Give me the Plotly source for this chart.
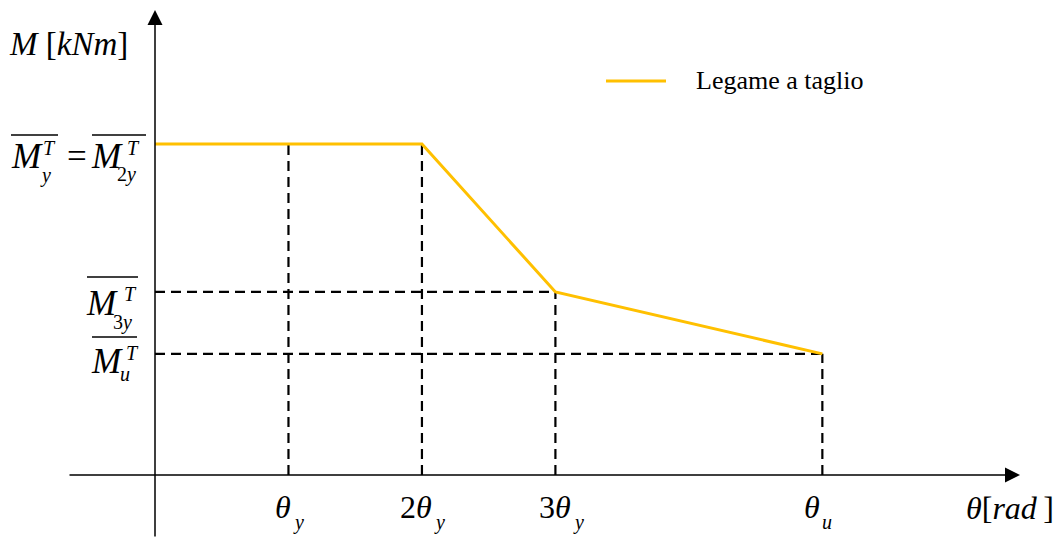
import plotly.graph_objects as go

# ---- data (schematic units: theta in multiples of theta_y, M normalised to M_y) ----
theta_ticks = [1, 2, 3, 5]                     # theta_y, 2theta_y, 3theta_y, theta_u
curve_theta = [0, 2, 3, 5]                      # shear law break points
curve_M = [1.0, 1.0, 0.553, 0.366]              # M_y = M_2y, M_3y, M_u
guide_M = [1.0, 1.0, 0.553, 0.366]              # height of dashed guide at each tick
level_M = [0.553, 0.366]                        # horizontal dashed levels
level_theta = [3, 5]                            # where horizontal guides end
series_name = "Legame a taglio"

W, H = 1062, 538
X0, SX = 155.0, 133.47       # pixel of theta=0, px per unit
Y0, SY = 475.0, 331.0        # pixel of M=0, px per unit

def px2x(p):
    return (p - X0) / SX

def py2y(p):
    return (Y0 - p) / SY

def pxp(p):
    return p / W

def pyp(p):
    return 1 - p / H

YELLOW = "#FFC000"
FONT = "Liberation Serif"

fig = go.Figure()

# dashed guides
dash = dict(color="black", width=2.2, dash="10px,6px")
for t, m in zip(theta_ticks, guide_M):
    fig.add_trace(go.Scatter(x=[t, t], y=[0, m], mode="lines", line=dash,
                             showlegend=False, hoverinfo="skip"))
for t, m in zip(level_theta, level_M):
    fig.add_trace(go.Scatter(x=[0, t], y=[m, m], mode="lines", line=dash,
                             showlegend=False, hoverinfo="skip"))

# shear law
fig.add_trace(go.Scatter(x=curve_theta, y=curve_M, mode="lines", name=series_name,
                         line=dict(color=YELLOW, width=3), showlegend=False))

ann = []
# axes with arrows
ann.append(dict(x=px2x(1020), y=0, ax=px2x(68), ay=0, xref="x", yref="y",
                axref="x", ayref="y", text="", showarrow=True, arrowhead=2,
                arrowsize=2, arrowwidth=1.5, arrowcolor="black", standoff=0))
ann.append(dict(x=0, y=py2y(10), ax=0, ay=py2y(538), xref="x", yref="y",
                axref="x", ayref="y", text="", showarrow=True, arrowhead=2,
                arrowsize=2, arrowwidth=1.5, arrowcolor="black", standoff=0))

def txt(text, px, py, size, xanchor="left"):
    ann.append(dict(text=text, x=pxp(px), y=pyp(py), xref="paper", yref="paper",
                    xanchor=xanchor, yanchor="middle", showarrow=False,
                    font=dict(family=FONT, size=size, color="black")))

# axis titles
txt("<i>M</i> [<i>kNm</i>]", 7, 44, 33)
txt("<i>θ</i>[<i>rad</i>\u2009]", 964, 508, 32)

# y labels
BIG, SMALL = 35, 20
txt("<i>M</i>", 9, 156, BIG)
txt("<i>T</i>", 41, 148, SMALL)
txt("<i>y</i>", 38, 176, SMALL)
txt("=", 77, 156, BIG, "center")
txt("<i>M</i>", 89, 156, BIG)
txt("<i>T</i>", 125, 148, SMALL)
txt("2<i>y</i>", 115, 174, SMALL)

txt("<i>M</i>", 84, 303, BIG)
txt("<i>T</i>", 122, 294, SMALL)
txt("3<i>y</i>", 111, 322, SMALL)

txt("<i>M</i>", 89, 362, BIG)
txt("<i>T</i>", 124, 353, SMALL)
txt("<i>u</i>", 118, 374, SMALL)

# x labels
txt("<i>θ</i>", 293, 507, 32, "right")
txt("<i>y</i>", 291, 522, SMALL)
txt("2<i>θ</i>", 434, 507, 32, "right")
txt("<i>y</i>", 432, 522, SMALL)
txt("3<i>θ</i>", 573, 507, 32, "right")
txt("<i>y</i>", 571, 522, SMALL)
txt("<i>θ</i>", 822, 507, 32, "right")
txt("<i>u</i>", 820, 522, SMALL)

# legend
txt(series_name, 694, 81, 26)

shapes = []
for (xa, xb, yy) in [(11, 58, 135), (92, 146, 135), (87, 138, 277), (92, 137, 337)]:
    shapes.append(dict(type="line", xref="paper", yref="paper",
                       x0=pxp(xa), x1=pxp(xb), y0=pyp(yy), y1=pyp(yy),
                       line=dict(color="black", width=1.5)))
shapes.append(dict(type="line", xref="paper", yref="paper",
                   x0=pxp(606), x1=pxp(666), y0=pyp(81), y1=pyp(81),
                   line=dict(color=YELLOW, width=3)))

fig.update_layout(
    width=W, height=H, margin=dict(l=0, r=0, t=0, b=0),
    paper_bgcolor="white", plot_bgcolor="white",
    xaxis=dict(range=[px2x(0), px2x(W)], visible=False, fixedrange=True),
    yaxis=dict(range=[py2y(H), py2y(0)], visible=False, fixedrange=True),
    annotations=ann, shapes=shapes, showlegend=False,
)

fig.write_html("out.html", config={"displayModeBar": False},
               post_script="document.body.style.margin='0';document.body.style.overflow='hidden';")
